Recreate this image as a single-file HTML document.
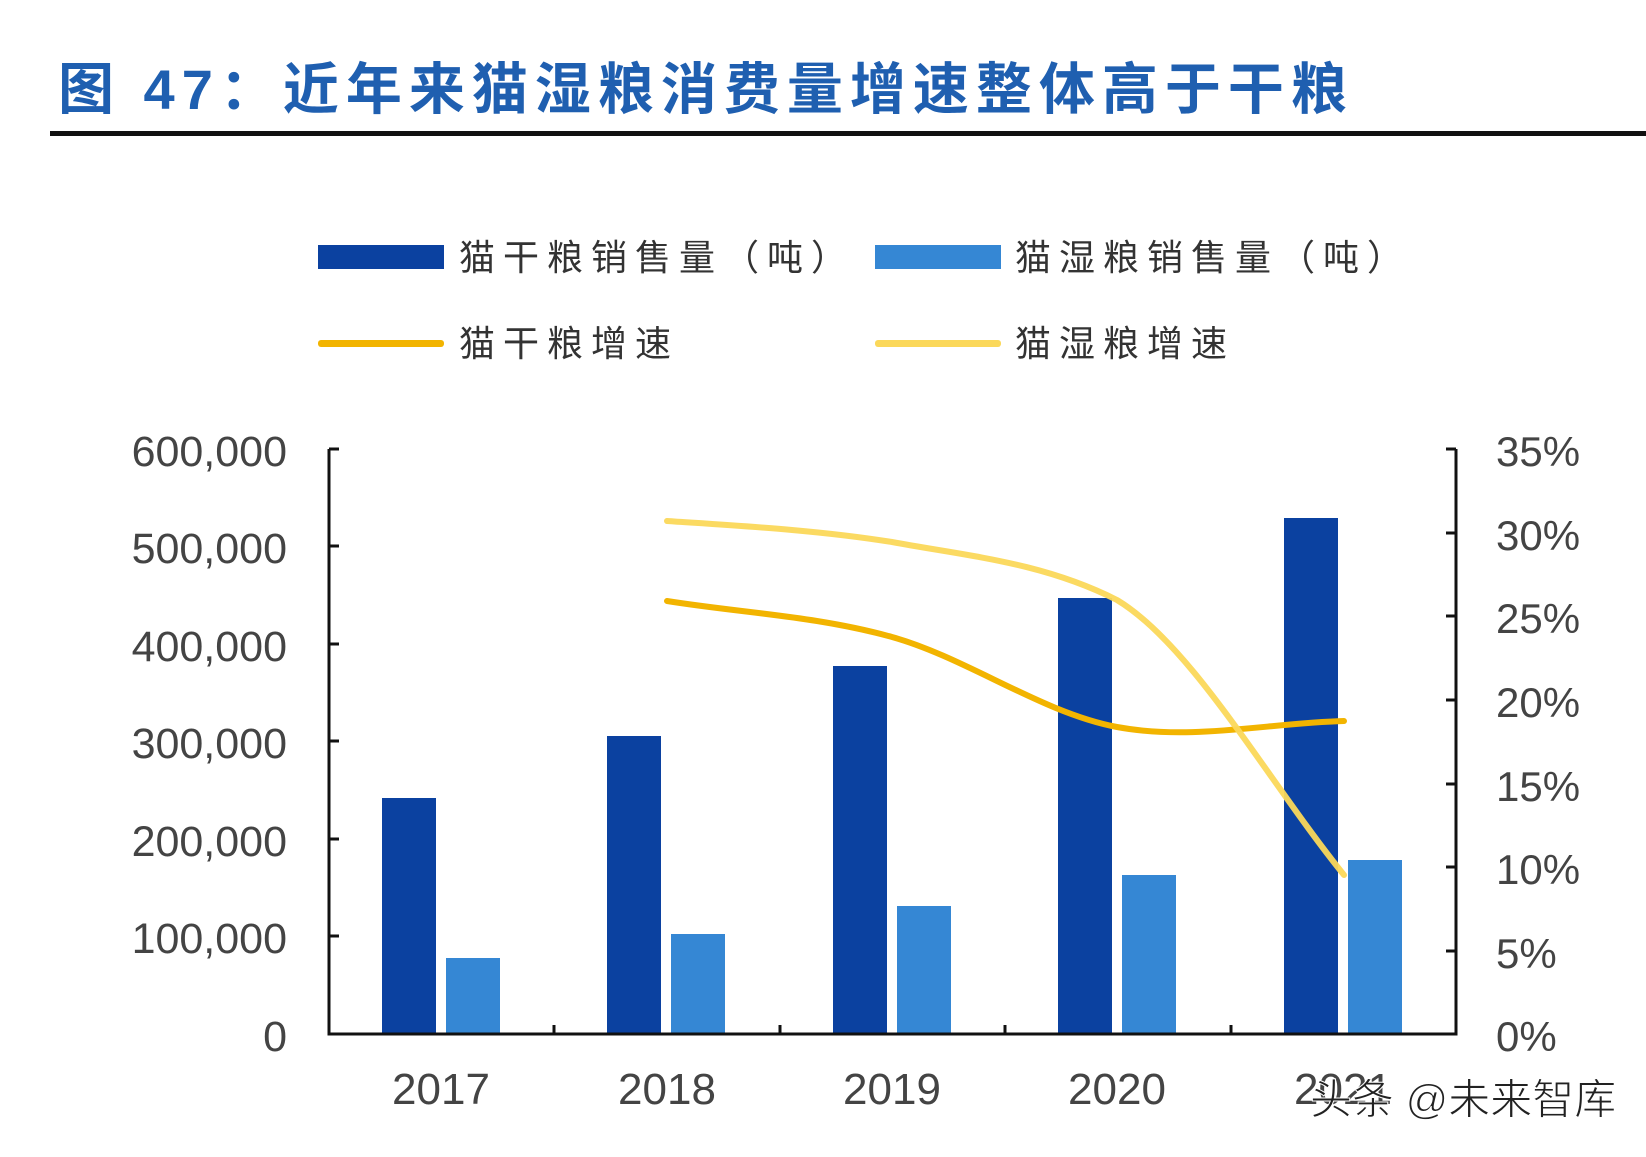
<!DOCTYPE html>
<html><head><meta charset="utf-8"><style>
body{margin:0;background:#fff;}
svg text{font-family:"Liberation Sans","Noto Sans CJK SC",sans-serif;}
</style></head><body>
<svg width="1646" height="1152" viewBox="0 0 1646 1152" xmlns="http://www.w3.org/2000/svg">
<rect width="1646" height="1152" fill="#fff"/>
<text x="58" y="109" font-size="56" font-weight="bold" fill="#1f5fb0" letter-spacing="7">图 47：近年来猫湿粮消费量增速整体高于干粮</text>
<rect x="50" y="131" width="1596" height="5" fill="#111"/>
<g font-size="36" fill="#333" letter-spacing="8">
<rect x="318" y="245" width="126" height="24" fill="#0B41A0"/>
<text x="459" y="270">猫干粮销售量（吨）</text>
<rect x="875" y="245" width="126" height="24" fill="#3587D4"/>
<text x="1015" y="270">猫湿粮销售量（吨）</text>
<rect x="318" y="340" width="126" height="7" rx="3" fill="#F2B400"/>
<text x="459" y="356">猫干粮增速</text>
<rect x="875" y="340" width="126" height="7" rx="3" fill="#FBD85A"/>
<text x="1015" y="356">猫湿粮增速</text>
</g>
<g fill="#0B41A0">
<rect x="382" y="798" width="54" height="236"/>
<rect x="607" y="736" width="54" height="298"/>
<rect x="833" y="666" width="54" height="368"/>
<rect x="1058" y="598" width="54" height="436"/>
<rect x="1284" y="518" width="54" height="516"/>
</g>
<g fill="#3587D4">
<rect x="446" y="958" width="54" height="76"/>
<rect x="671" y="934" width="54" height="100"/>
<rect x="897" y="906" width="54" height="128"/>
<rect x="1122" y="875" width="54" height="159"/>
<rect x="1348" y="860" width="54" height="174"/>
</g>
<g fill="none" stroke-width="6" stroke-linecap="round">
<path d="M667,601 C742,613 817,616 892,637 C967,658 1042,713 1117,727 C1192,741 1268,723 1344,721" stroke="#F2B400"/>
<path d="M667,521 C742,526 817,530 892,542 C967,556 1042,562 1117,600 C1192,645 1268,781 1344,875" stroke="#FBD85A" opacity="0.95"/>
</g>
<g stroke="#111" stroke-width="3" fill="none">
<path d="M329,449 V1034 H1456 V449"/>
<path d="M329,449h10M329,546h10M329,644h10M329,741h10M329,839h10M329,936h10"/>
<path d="M1456,449h-10M1456,533h-10M1456,616h-10M1456,700h-10M1456,784h-10M1456,867h-10M1456,951h-10"/>
<path d="M554,1034v-9M780,1034v-9M1005,1034v-9M1231,1034v-9"/>
</g>
<g font-size="43" fill="#444" text-anchor="end">
<text x="287" y="466">600,000</text>
<text x="287" y="563">500,000</text>
<text x="287" y="661">400,000</text>
<text x="287" y="758">300,000</text>
<text x="287" y="856">200,000</text>
<text x="287" y="953">100,000</text>
<text x="287" y="1051">0</text>
</g>
<g font-size="42" fill="#444">
<text x="1496" y="466">35%</text>
<text x="1496" y="550">30%</text>
<text x="1496" y="633">25%</text>
<text x="1496" y="717">20%</text>
<text x="1496" y="801">15%</text>
<text x="1496" y="884">10%</text>
<text x="1496" y="968">5%</text>
<text x="1496" y="1051">0%</text>
</g>
<g font-size="44" fill="#444" text-anchor="middle">
<text x="441" y="1104">2017</text>
<text x="667" y="1104">2018</text>
<text x="892" y="1104">2019</text>
<text x="1117" y="1104">2020</text>
<text x="1343" y="1104">2021</text>
</g>
<text x="1310" y="1114" font-size="42" fill="#222" stroke="#fff" stroke-width="1">头条 @未来智库</text>
</svg>
</body></html>
